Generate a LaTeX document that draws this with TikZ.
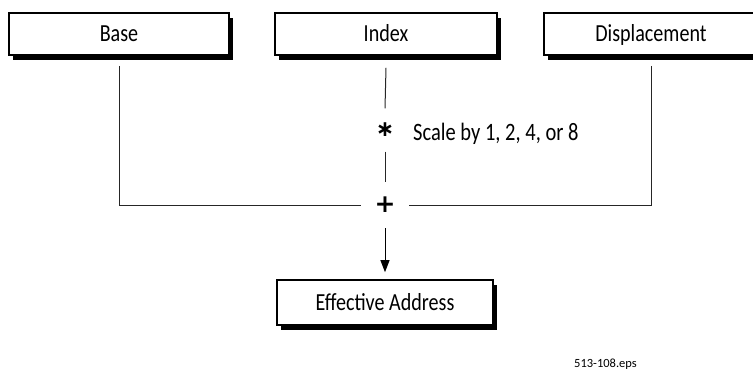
\documentclass[tikz,border=0pt]{standalone}
\usepackage{fontspec}
\setmainfont{Carlito}
\newfontfamily\cond[FakeStretch=0.82]{Carlito}
\newfontfamily\djv{DejaVu Sans}
\usetikzlibrary{shadows,arrows.meta}
\begin{document}
\begin{tikzpicture}[x=1pt,y=-1pt,
  box/.style={draw=black, line width=1.6pt, fill=white, inner sep=0pt,
    minimum height=42pt, text height=16pt, text depth=0pt,
    font=\cond\fontsize{24.5}{26}\selectfont,
    drop shadow={shadow xshift=3.5pt, shadow yshift=-5pt, fill=black, opacity=1}},
  conn/.style={draw=black!85, line width=1pt},
  lbl/.style={inner sep=0pt, font=\cond\fontsize{25}{26}\selectfont}]
\useasboundingbox (0,0) rectangle (753,369);
\node[box, minimum width=220pt] (base) at (119,34) {Base};
\node[box, minimum width=222pt] (index) at (386,34) {Index};
\node[box, minimum width=214pt] (disp) at (651,34) {Displacement};
\node[box, minimum width=216pt, minimum height=45pt] (ea) at (385,302.5) {Effective Address};
\node[inner sep=0pt, minimum width=48pt, minimum height=46pt, font=\djv\bfseries\fontsize{25}{25}\selectfont] (plus) at (385,205) {+};
\node[inner sep=0pt, minimum width=20pt, minimum height=43pt, font=\djv\bfseries\fontsize{22}{22}\selectfont] (star) at (385,130) {∗};
\node[lbl, anchor=base west] (scale) at (413,140) {Scale by 1, 2, 4, or 8};
\node[inner sep=0pt, anchor=base west, font=\fontsize{12.5}{12.5}\selectfont] (fn) at (574,367) {513-108.eps};
\draw[conn] ([yshift=-10pt]base.south) |- (plus.west);
\draw[conn] ([yshift=-10pt]disp.south) |- (plus.east);
\draw[conn] ([yshift=-12pt]index.south) -- (star.north);
\draw[conn] (star.south) -- (plus.north);
\draw[conn, draw=black, -{Triangle[length=12pt,width=9pt]}, shorten >=7pt] (plus.south) -- (ea.north);
\end{tikzpicture}
\end{document}
